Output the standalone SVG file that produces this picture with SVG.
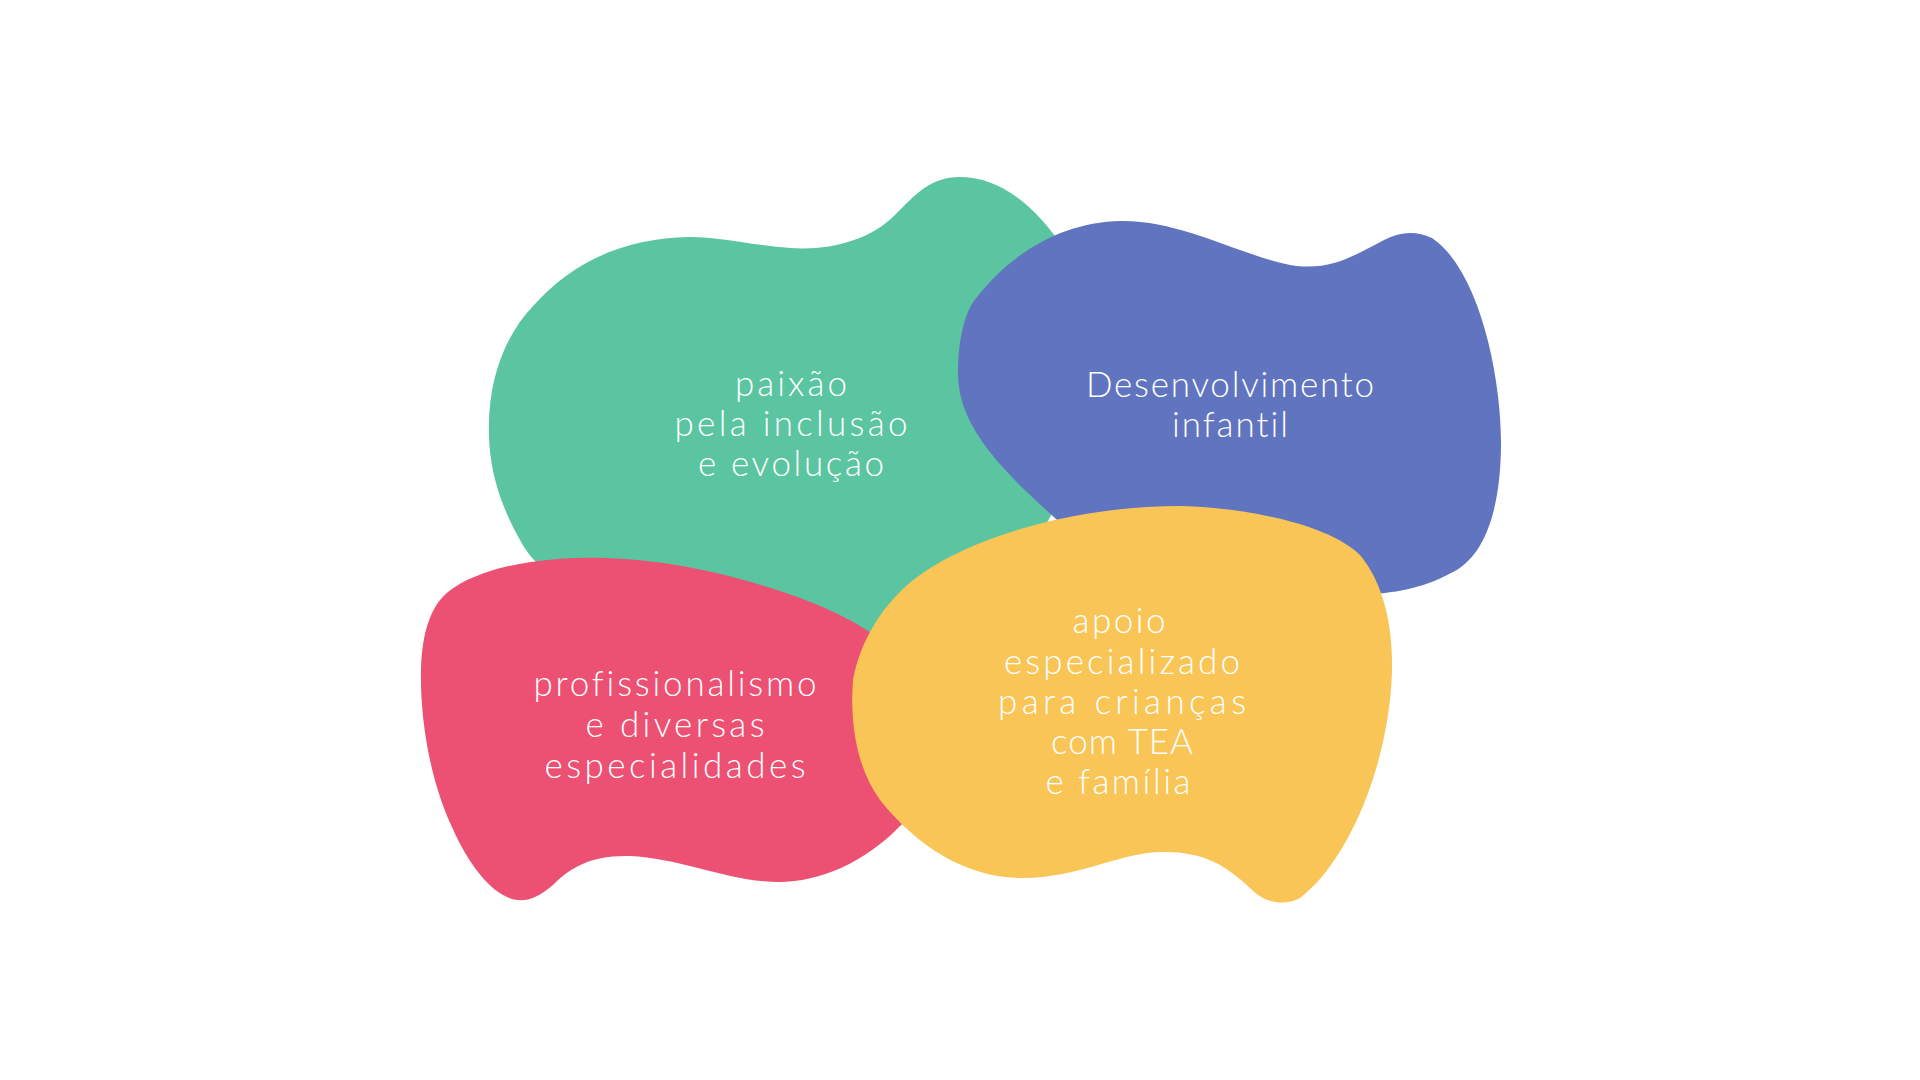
<svg xmlns="http://www.w3.org/2000/svg" width="1920" height="1080" viewBox="0 0 1920 1080">
<style>
.lbl{font-family:Lato,"Open Sans","Liberation Sans",sans-serif;font-weight:300;font-size:35px;fill:#ffffff;text-anchor:middle;font-variant-ligatures:none}
</style>
<rect width="1920" height="1080" fill="#ffffff"/>
<g id="node-green">
<path fill="#5BC4A0" d="M489,437 C487,380 505,335 534,305 C570,265 620,238 690,237 C720,237 750,245 790,248 C830,251 870,240 895,215 C915,195 930,177 960,177 C1000,177 1035,205 1065,250 C1100,320 1100,470 1020,560 C960,615 900,650 860,645 C740,630 560,620 520,540 C500,505 490,470 489,437 Z"/>
<text class="lbl" x="791" y="396" textLength="112" lengthAdjust="spacing">paixão</text>
<text class="lbl" x="791" y="436" textLength="233" lengthAdjust="spacing">pela inclusão</text>
<text class="lbl" x="791" y="476" textLength="186" lengthAdjust="spacing">e evolução</text>
</g>
<g id="node-blue">
<path fill="#6074BF" d="M977,297 C1010,255 1060,222 1121,221 C1180,220 1240,255 1290,265 C1330,272 1355,255 1384,240 C1400,232 1415,230 1432,238 C1480,270 1502,380 1501,447 C1500,520 1480,560 1451,573 C1420,590 1390,593 1370,594 C1250,600 1100,560 1055,518 C990,460 958,420 958,373 C958,340 965,310 977,297 Z"/>
<text class="lbl" x="1230" y="397" textLength="288" lengthAdjust="spacing">Desenvolvimento</text>
<text class="lbl" x="1230" y="437" textLength="116" lengthAdjust="spacing">infantil</text>
</g>
<g id="node-red">
<path fill="#EC5072" d="M531,562 C610,550 710,563 813,603 C870,626 910,655 925,700 C940,760 930,800 899,827 C865,862 820,882 779,882 C730,882 680,858 630,856 C590,855 570,868 553,885 C540,896 530,901 518,900 C495,898 470,868 452,827 C430,780 420,720 421,670 C422,630 432,605 448,592 C465,578 495,567 531,562 Z"/>
<text class="lbl" x="675" y="696" textLength="283" lengthAdjust="spacing">profissionalismo</text>
<text class="lbl" x="675" y="737" textLength="179" lengthAdjust="spacing">e diversas</text>
<text class="lbl" x="675" y="778" textLength="261" lengthAdjust="spacing">especialidades</text>
</g>
<g id="node-yellow">
<path fill="#F8C556" d="M1181,506 C1250,508 1330,525 1360,555 C1385,585 1393,630 1392,670 C1390,760 1350,860 1300,898 C1285,906 1265,904 1250,888 C1225,865 1205,852 1163,852 C1120,852 1080,878 1022,878 C970,878 920,850 880,800 C855,765 850,720 853,680 C858,650 875,615 904,588 C950,545 1060,506 1181,506 Z"/>
<text class="lbl" x="1119" y="633" textLength="93" lengthAdjust="spacing">apoio</text>
<text class="lbl" x="1122" y="674" textLength="236" lengthAdjust="spacing">especializado</text>
<text class="lbl" x="1122" y="714" textLength="248" lengthAdjust="spacing">para crianças</text>
<text class="lbl" x="1122" y="754" textLength="142" lengthAdjust="spacing">com TEA</text>
<text class="lbl" x="1118" y="794" textLength="145" lengthAdjust="spacing">e família</text>
</g>
<g id="connectors"></g>
</svg>
